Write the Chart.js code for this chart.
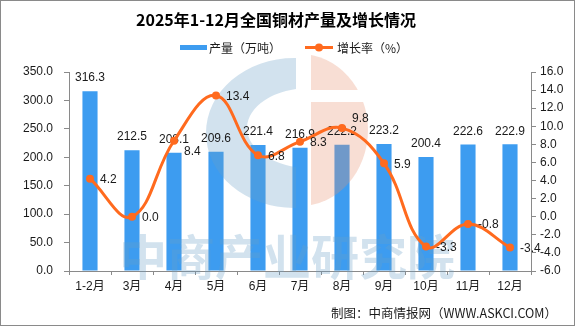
<!DOCTYPE html>
<html>
<head>
<meta charset="utf-8">
<script src="https://cdn.jsdelivr.net/npm/chart.js@4.4.0/dist/chart.umd.min.js"></script>
<style>
    html, body { margin: 0; padding: 0; background: #fff; }
    #wrap { width: 575px; height: 326px; }
</style>
</head>
<body>
<div id="wrap"><canvas id="chart" width="575" height="326"></canvas></div>
<script>
const months = ['1-2月', '3月', '4月', '5月', '6月', '7月', '8月', '9月', '10月', '11月', '12月'];
const output = [316.3, 212.5, 208.1, 209.6, 221.4, 216.9, 222.2, 223.2, 200.4, 222.6, 222.9];
const growth = [4.2, 0.0, 8.4, 13.4, 6.8, 8.3, 9.8, 5.9, -3.3, -0.8, -3.4];

const titleText = '2025年1-12月全国铜材产量及增长情况';
const outputLabel = '产量（万吨）';
const growthLabel = '增长率（%）';
const sourceText = '制图：中商情报网（WWW.ASKCI.COM）';
const watermarkText = '中商产业研究院';

const BLUE = '#3d9cf0';
const ORANGE = '#ff6a1e';
const AXIS = '#8a8a8a';
const TEXT = '#1a1a1a';
const NUM_FONT = '12px "Liberation Sans", "Noto Sans CJK SC", sans-serif';
const CJK = '"Noto Sans CJK SC", sans-serif';

// a couple of growth labels are pushed up/down to dodge the bar labels
const labelNudgeY = { 2: 10, 6: -10 };

function drawWatermark(ctx) {
    // faint logo over the bars
    ctx.save();
    ctx.beginPath();
    ctx.rect(0, 0, 296, 326);
    ctx.clip();
    ctx.fillStyle = 'rgba(105,158,198,0.3)';
    ctx.beginPath();
    ctx.moveTo(294 + 88, 133);
    ctx.ellipse(294, 133, 88, 75, 0, 0, Math.PI * 2);
    ctx.moveTo(310 + 63, 128);
    ctx.ellipse(310, 128, 63, 40, 0, 0, Math.PI * 2);
    ctx.fill('evenodd');
    ctx.restore();

    ctx.save();
    ctx.beginPath();
    ctx.rect(311, 0, 200, 90);
    ctx.rect(311, 102, 200, 200);
    ctx.clip();
    ctx.fillStyle = 'rgba(232,145,112,0.3)';
    ctx.beginPath();
    ctx.ellipse(300, 130, 68, 76, 0, 0, Math.PI * 2);
    ctx.fill();
    ctx.restore();

    ctx.save();
    ctx.fillStyle = 'rgba(105,158,198,0.3)';
    ctx.font = 'bold 48px ' + CJK;
    ctx.textAlign = 'center';
    ctx.textBaseline = 'middle';
    ctx.fillText(watermarkText, 287, 257);
    ctx.restore();
}

const decorPlugin = {
    id: 'decor',
    afterDatasetDraw(chart, args) {
        if (args.meta.type !== 'bar') return;
        const ctx = chart.ctx;
        drawWatermark(ctx);
        ctx.save();
        ctx.font = NUM_FONT;
        ctx.fillStyle = TEXT;
        ctx.textAlign = 'center';
        ctx.textBaseline = 'middle';
        args.meta.data.forEach((bar, i) => {
            ctx.fillText(output[i].toFixed(1), bar.x, bar.y - 13);
        });
        ctx.restore();
    },
    afterDatasetsDraw(chart) {
        const ctx = chart.ctx;
        const meta = chart.getDatasetMeta(1);
        ctx.save();
        ctx.font = NUM_FONT;
        ctx.fillStyle = TEXT;
        ctx.textAlign = 'left';
        ctx.textBaseline = 'middle';
        meta.data.forEach((pt, i) => {
            const dy = labelNudgeY[i] || 0;
            ctx.fillText(growth[i].toFixed(1), pt.x + 10, pt.y + 1 + dy);
        });
        ctx.restore();
    },
    afterDraw(chart) {
        const ctx = chart.ctx;
        ctx.save();
        // title
        ctx.fillStyle = '#000';
        ctx.font = 'bold 16px ' + CJK;
        ctx.textAlign = 'center';
        ctx.textBaseline = 'middle';
        ctx.fillText(titleText, 276, 20);

        // legend
        ctx.font = '12px ' + CJK;
        ctx.textAlign = 'left';
        ctx.fillStyle = BLUE;
        ctx.fillRect(180, 45, 27, 5);
        ctx.fillStyle = TEXT;
        ctx.fillText(outputLabel, 209, 48);
        ctx.strokeStyle = ORANGE;
        ctx.lineWidth = 3;
        ctx.beginPath();
        ctx.moveTo(305, 47.5);
        ctx.lineTo(333, 47.5);
        ctx.stroke();
        ctx.fillStyle = ORANGE;
        ctx.beginPath();
        ctx.arc(319, 47.5, 4, 0, Math.PI * 2);
        ctx.fill();
        ctx.fillStyle = TEXT;
        ctx.fillText(growthLabel, 337, 48);

        // source note
        ctx.font = '12.5px ' + CJK;
        ctx.textAlign = 'right';
        ctx.fillText(sourceText, 557, 313);

        // frame
        ctx.strokeStyle = AXIS;
        ctx.lineWidth = 1;
        ctx.strokeRect(0.5, 0.5, 574, 325);
        ctx.restore();
    }
};

new Chart(document.getElementById('chart'), {
    type: 'bar',
    data: {
        labels: months,
        datasets: [{
            type: 'bar',
            label: outputLabel,
            data: output,
            backgroundColor: BLUE,
            barPercentage: 0.36,
            categoryPercentage: 1,
            yAxisID: 'y',
            order: 1
        }, {
            type: 'line',
            label: growthLabel,
            data: growth,
            borderColor: ORANGE,
            backgroundColor: ORANGE,
            borderWidth: 3,
            pointRadius: 4,
            pointBorderWidth: 0,
            pointBackgroundColor: ORANGE,
            tension: 0.4,
            yAxisID: 'y1',
            order: 0
        }]
    },
    options: {
        responsive: false,
        animation: false,
        devicePixelRatio: 1,
        layout: { padding: { top: 72, left: 0, right: 0, bottom: 0 } },
        plugins: {
            legend: { display: false },
            title: { display: false },
            tooltip: { enabled: false }
        },
        scales: {
            x: {
                grid: { display: true, drawOnChartArea: false, drawTicks: true, tickLength: 4, color: AXIS, offset: true },
                border: { color: AXIS },
                ticks: { color: TEXT, font: { family: '"Liberation Sans", "Noto Sans CJK SC", sans-serif', size: 12 }, padding: 4, maxRotation: 0 },
                afterFit: (s) => { s.height = 55; }
            },
            y: {
                position: 'left',
                min: 0,
                max: 350,
                ticks: { stepSize: 50, color: TEXT, font: { family: '"Liberation Sans", sans-serif', size: 12 }, padding: 11, callback: (v) => v.toFixed(1) },
                grid: { drawOnChartArea: false, tickLength: 5, color: AXIS },
                border: { color: AXIS },
                afterFit: (s) => { s.width = 69; }
            },
            y1: {
                position: 'right',
                min: -6,
                max: 16,
                ticks: { stepSize: 2, color: TEXT, font: { family: '"Liberation Sans", sans-serif', size: 12 }, padding: 4, callback: (v) => v.toFixed(1) },
                grid: { drawOnChartArea: false, tickLength: 5, color: AXIS },
                border: { color: AXIS },
                afterFit: (s) => { s.width = 44; }
            }
        }
    },
    plugins: [decorPlugin]
});
</script>
</body>
</html>
